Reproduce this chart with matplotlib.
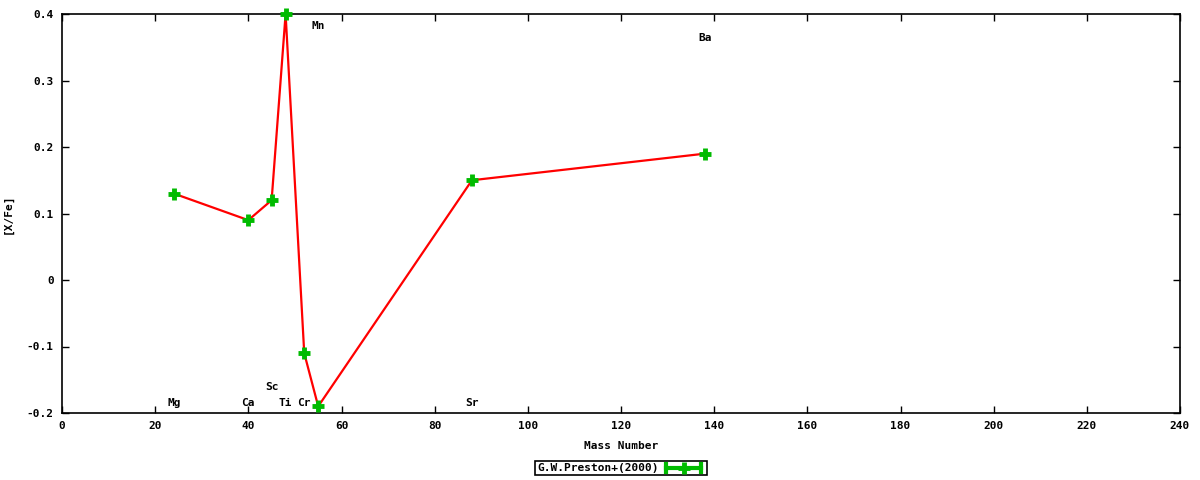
import matplotlib
matplotlib.use("Agg")
import matplotlib.pyplot as plt
from matplotlib.lines import Line2D
from matplotlib.patches import Rectangle

elements = ["Mg", "Ca", "Sc", "Ti", "Cr", "Mn", "Sr", "Ba"]
mass = [24, 40, 45, 48, 52, 55, 88, 138]
xfe = [0.13, 0.09, 0.12, 0.40, -0.11, -0.19, 0.15, 0.19]
label_y = [-0.185, -0.185, -0.161, -0.185, -0.185, 0.382, -0.185, 0.364]
series_name = "G.W.Preston+(2000)"

font = dict(family="DejaVu Sans Mono", fontweight="bold", fontsize=8)

fig = plt.figure(figsize=(12, 4.8), dpi=100)
ax = fig.add_axes([62/1200, 1-413/480, (1180-62)/1200, (413-14)/480])

ax.plot(mass, xfe, color="red", lw=1.6, zorder=2)
ax.plot(mass, xfe, ls="none", marker="+", color="#00bb00", ms=9, mew=3.5, zorder=3, clip_on=False)

for el, m, ly in zip(elements, mass, label_y):
    ax.text(m, ly, el, ha="center", va="center", **font)

ax.set_xlim(0, 240)
ax.set_ylim(-0.2, 0.4)
ax.set_xticks(range(0, 241, 20))
ax.set_yticks([-0.2, -0.1, 0, 0.1, 0.2, 0.3, 0.4])
ax.set_yticklabels(["-0.2", "-0.1", "0", "0.1", "0.2", "0.3", "0.4"])
ax.tick_params(direction="in", length=5, width=1, top=True, right=True, pad=6)
for lab in ax.get_xticklabels() + ax.get_yticklabels():
    lab.set_family("DejaVu Sans Mono"); lab.set_fontweight("bold"); lab.set_fontsize(8)
for s in ax.spines.values():
    s.set_linewidth(1.2)
ax.set_xlabel("Mass Number", labelpad=7, **font)
ax.set_ylabel("[X/Fe]", labelpad=10, **font)

# legend box below plot
x0, x1 = 535/1200, 707/1200
y0, y1 = 1-475/480, 1-461/480
fig.add_artist(Rectangle((x0, y0), x1-x0, y1-y0, transform=fig.transFigure,
                         fill=False, lw=1.2, edgecolor="black"))
fig.text(537/1200, (y0+y1)/2, series_name, ha="left", va="center", **font)
ly = (y0+y1)/2
fig.add_artist(Line2D([666/1200, 701/1200], [ly, ly], transform=fig.transFigure, color="#00bb00", lw=3))
for xc in (666/1200, 701/1200):
    fig.add_artist(Line2D([xc, xc], [ly-4/480, ly+4/480], transform=fig.transFigure, color="#00bb00", lw=3))
fig.add_artist(Line2D([683.5/1200], [ly], transform=fig.transFigure, marker="+", ms=9, mew=3.5, color="#00bb00", ls="none"))

fig.savefig("out.png", dpi=100)
